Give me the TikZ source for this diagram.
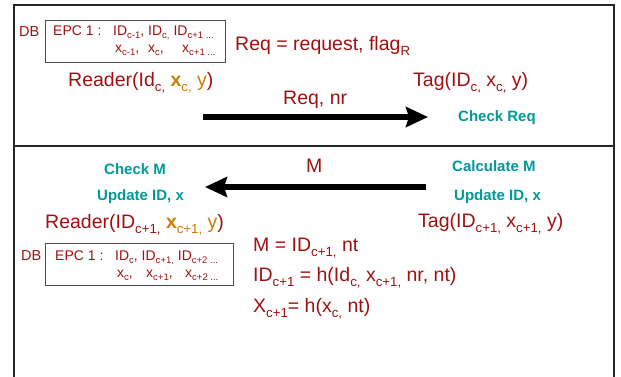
\documentclass[tikz,border=0pt]{standalone}
\usepackage{fontspec}
\setmainfont{Liberation Sans}
\usetikzlibrary{arrows.meta}
\definecolor{dred}{RGB}{160,16,16}
\definecolor{dorange}{RGB}{204,122,0}
\definecolor{tealc}{RGB}{0,153,153}
\newcommand\sbs[1]{\raisebox{-0.27em}{\scalebox{0.68}{#1}}}
\tikzset{
  big/.style={font=\fontsize{19.5}{22}\selectfont, text=dred, inner sep=0pt, anchor=base west},
  small/.style={font=\fontsize{14}{16}\selectfont, text=dred, inner sep=0pt, anchor=base west},
  dblabel/.style={font=\fontsize{14.5}{17}\selectfont, text=dred, inner sep=0pt, anchor=base west},
  note/.style={font=\fontsize{15}{18}\selectfont\bfseries, text=tealc, inner sep=0pt, anchor=base west},
  frame/.style={line width=2pt, draw=black!85},
  dbbox/.style={draw=black!70, line width=0.8pt, inner sep=0pt, anchor=north west},
  msg/.style={line width=6.5pt, draw=black, -{Stealth[length=22pt,width=20pt,inset=3pt]}}
}
\begin{document}
\begin{tikzpicture}[x=1pt,y=-1pt]
\useasboundingbox (0,0) rectangle (621,376);
% frames
\draw[frame] (14,146) -- (14,5) -- (614,5) -- (614,146);
\draw[frame] (14,377) -- (14,146) -- (614,146) -- (614,377);

% ---------- top section ----------
\node[dblabel] (db1) at (19,36) {DB};
\node[dbbox, minimum width=180pt, minimum height=42pt] (db1box) at (45,20) {};
\node[small] (epc1) at (53,35) {EPC 1 :};
\node[small] (ids1) at (113,35) {ID\sbs{c-1}, ID\sbs{c,} ID\sbs{c+1 ...}};
\node[small] (x1a) at (115,52) {x\sbs{c-1},};
\node[small] (x1b) at (148,52) {x\sbs{c},};
\node[small] (x1c) at (182,52) {x\sbs{c+1 ...}};

\node[big] (req) at (235,50) {Req = request, flag\sbs{R}};
\node[big] (reader1) at (68,86) {Reader(Id\sbs{c,} \textcolor{dorange}{\textbf{x}\sbs{c,}} \textcolor{dorange}{y})};
\node[big] (tag1) at (413,86) {Tag(ID\sbs{c,} x\sbs{c,} y)};
\node[big] (reqnr) at (283,104) {Req, nr};
\node[note] (checkreq) at (458,121) {Check Req};

\coordinate (a1s) at (203,117);
\coordinate (a1e) at (428,117);
\draw[msg] (a1s) -- (a1e);

% ---------- bottom section ----------
\node[note] (checkm) at (104,174) {Check M};
\node[note] (upd1) at (97,200) {Update ID, x};
\node[big] (mlab) at (306,172) {M};
\node[note] (calcm) at (452,171) {Calculate M};
\node[note] (upd2) at (454,200) {Update ID, x};

\coordinate (a2s) at (426,187);
\coordinate (a2e) at (205,187);
\draw[msg] (a2s) -- (a2e);

\node[big] (reader2) at (45,228) {Reader(ID\sbs{c+1,} \textcolor{dorange}{\textbf{x}\sbs{c+1,}} \textcolor{dorange}{y})};
\node[big] (tag2) at (418,227) {Tag(ID\sbs{c+1,} x\sbs{c+1,} y)};

\node[dblabel] (db2) at (21,260) {DB};
\node[dbbox, minimum width=188pt, minimum height=42pt] (db2box) at (45,243) {};
\node[small] (epc2) at (55,260) {EPC 1 :};
\node[small] (ids2) at (115,260) {ID\sbs{c}, ID\sbs{c+1,} ID\sbs{c+2 ...}};
\node[small] (x2a) at (117,277) {x\sbs{c},};
\node[small] (x2b) at (146,277) {x\sbs{c+1},};
\node[small] (x2c) at (185,277) {x\sbs{c+2 ...}};

\node[big] (eqm) at (253,251) {M = ID\sbs{c+1,} nt};
\node[big] (eqid) at (253,281) {ID\sbs{c+1} = h(Id\sbs{c,} x\sbs{c+1,} nr, nt)};
\node[big] (eqx) at (253,312) {X\sbs{c+1}= h(x\sbs{c,} nt)};
\end{tikzpicture}
\end{document}
